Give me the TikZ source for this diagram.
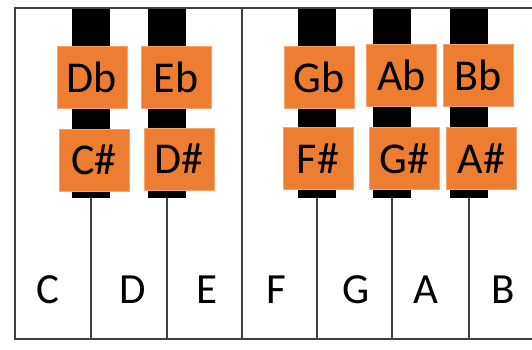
\documentclass[tikz,border=0pt]{standalone}
\usepackage{fontspec}
\setmainfont{Carlito}
\usetikzlibrary{positioning}
\definecolor{keyorange}{HTML}{ED7D31}
\definecolor{keyline}{HTML}{3F3F3F}
\tikzset{
x=1pt, y=-1pt,
keyedge/.style={draw=keyline, line width=1.4pt}, % outline of the white keys
blackkey/.style={fill=black}, % the black keys
notebox/.style={fill=keyorange, draw=keyorange!70!white, line width=0.6pt,
  minimum width=70pt, minimum height=62pt, inner sep=0pt,
  font=\fontsize{44}{48}\selectfont}, % orange name boxes
whitename/.style={font=\fontsize{43}{48}\selectfont}, % names of the white keys
}
\begin{document}
\begin{tikzpicture}
        \useasboundingbox (0,0) rectangle (532,350);
        \fill[white] (0,0) rectangle (532,350);

        % black keys
        \foreach \k in {91,167,317,392,469}
            \fill[blackkey] (\k-19,8) rectangle (\k+19,198);

        % white keys
        \draw[keyedge] (545,8) -- (15,8) -- (15,339) -- (545,339);
        \draw[keyedge] (242,8) -- (242,339);
        \foreach \k in {91,167,317,392,469}
            \draw[keyedge] (\k,198) -- (\k,339);

        % flat names
        \node[notebox] (Db) at (92,77) {Db};
        \node[notebox] (Eb) at (176,77) {Eb};
        \node[notebox] (Gb) at (319,77) {Gb};
        \node[notebox] (Ab) at (401.5,75.5) {Ab};
        \node[notebox] (Bb) at (478.5,75.5) {Bb};

        % sharp names
        \node[notebox] (Cs) at (94,160) {C\#};
        \node[notebox] (Ds) at (179,159) {D\#};
        \node[notebox] (Fs) at (318,158.5) {F\#};
        \node[notebox] (Gs) at (404.5,158.5) {G\#};
        \node[notebox] (As) at (481.5,158.5) {A\#};

        % white key names
        \node[whitename] (C) at (48,290) {C};
        \node[whitename] (D) at (133,290) {D};
        \node[whitename] (E) at (207,290) {E};
        \node[whitename] (F) at (276,290) {F};
        \node[whitename] (G) at (356,290) {G};
        \node[whitename] (A) at (426,290) {A};
        \node[whitename] (B) at (503,290) {B};
     \end{tikzpicture}
\end{document}
